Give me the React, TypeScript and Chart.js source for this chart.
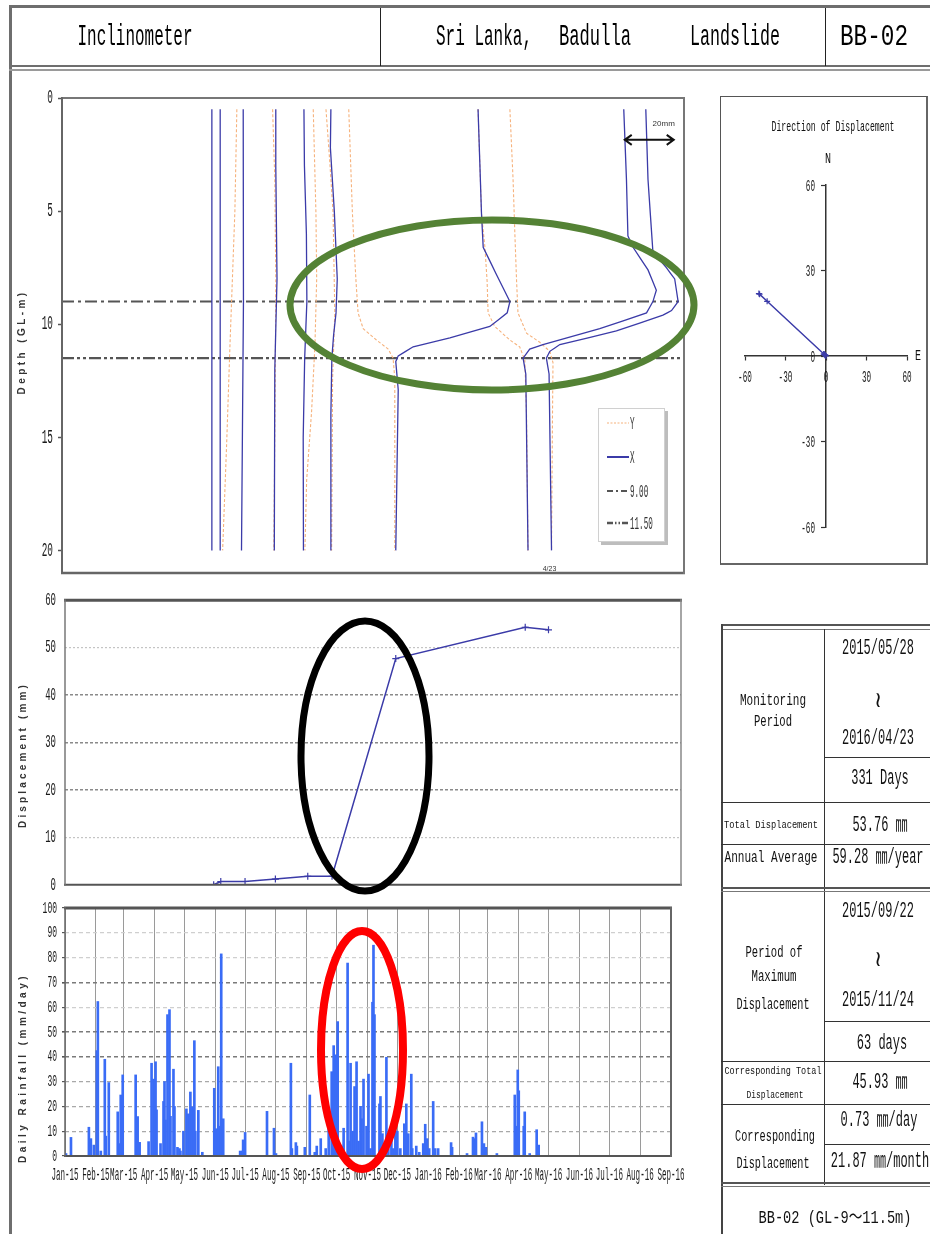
import React, { useEffect, useRef } from 'react';
import { Chart, registerables } from 'chart.js';

Chart.register(...registerables);

/* ======================= DATA ======================= */
// Inclinometer (depth profile) chart
const depthTicks = [0, 5, 10, 15, 20];
const depthMax = 21;
const readingMin = 0;
const readingMax = 254; // mm across the plot width (each survey drawn with its own offset)

// each point = [depth (m), reading (mm)]
const profileX1 = [[0.5, 61.2], [20, 61.2]];
const profileX2 = [[0.5, 64.6], [20, 64.6]];
const profileX3 = [[0.5, 74.0], [9, 74.1], [20, 73.3]];
const profileX4 = [[0.5, 87.3], [3, 87.3], [8, 87.8], [12, 86.9], [20, 86.7]];
const profileX5 = [[0.5, 98.8], [3, 99.0], [6, 99.8], [9, 100.0], [11.5, 99.1], [15, 98.5], [20, 98.6]];
const profileX6 = [[0.5, 109.8], [2.2, 109.6], [5, 111.2], [8, 112.4], [9.5, 111.9], [10.5, 110.9], [11.5, 110.2], [14, 109.8], [20, 109.8]];
const profileX7 = [[0.5, 169.9], [5.1, 171.3], [6.6, 172.0], [7.8, 177.4], [9.0, 182.9], [9.5, 181.8], [10.1, 174.7], [10.6, 158.4], [11.0, 143.4], [11.4, 137.3], [11.65, 136.3], [12.9, 137.3], [20, 136.3]];
const profileX8 = [[0.5, 229.4], [3.6, 230.5], [6.1, 231.1], [6.6, 233.2], [7.6, 239.3], [8.5, 242.7], [9.0, 241.3], [9.5, 238.7], [10.2, 219.6], [10.9, 196.4], [11.1, 191.0], [11.5, 188.3], [12.2, 189.4], [20, 190.3]];
const profileX9 = [[0.5, 238.4], [3.6, 239.3], [6.8, 241.3], [7.5, 246.8], [8.0, 250.2], [9.0, 251.6], [9.4, 248.9], [9.6, 245.4], [10.3, 226.4], [10.9, 203.3], [11.2, 199.2], [11.5, 197.8], [12.2, 198.9], [20, 199.9]];

const profileY1 = [[0.5, 71.4], [5, 70.6], [10.9, 68.6], [15.4, 67.2], [20, 65.6]];
const profileY2 = [[0.5, 86.0], [3.6, 86.9], [8, 87.3], [12.4, 87.1], [20, 86.5]];
const profileY3 = [[0.5, 102.6], [5.1, 103.7], [8, 104.0], [10.9, 103.3], [13.9, 101.9], [16.9, 99.9], [20, 99.2]];
const profileY4 = [[0.5, 107.8], [2.9, 109.4], [5.1, 110.7], [9.5, 111.4], [12.4, 110.5], [20, 110.1]];
const profileY5 = [[0.5, 117.1], [5.1, 118.6], [8, 120.0], [9.5, 120.9], [10.2, 123.0], [10.7, 128.4], [11.1, 133.2], [11.5, 135.2], [12.4, 135.9], [20, 135.9]];
const profileY6 = [[0.5, 169.9], [5.1, 171.3], [6.6, 172.7], [8.1, 173.6], [9.5, 174.0], [10.1, 176.7], [10.7, 182.9], [11.0, 186.9], [11.6, 189.0], [14, 189.7], [20, 190.3]];
const profileY7 = [[0.5, 182.9], [3.6, 184.2], [5.9, 184.9], [8, 185.6], [9.5, 186.2], [10.4, 189.7], [10.8, 195.1], [11.2, 199.2], [11.7, 200.5], [14, 200.3], [20, 199.9]];

const profilesX = [profileX1, profileX2, profileX3, profileX4, profileX5, profileX6, profileX7, profileX8, profileX9];
const profilesY = [profileY1, profileY2, profileY3, profileY4, profileY5, profileY6, profileY7];

const slipDepths = [9.0, 11.5];
const slipLabels = ['9.00', '11.50'];
const lastSurveyLabel = '4/23';
const scaleBarMm = 20;

// Displacement time series
const dispDates = ['2015-05-28', '2015-06-04', '2015-06-28', '2015-07-28', '2015-08-29', '2015-09-22', '2015-11-24', '2016-03-31', '2016-04-23'];
const dispValues = [0, 0.7, 0.7, 1.2, 1.8, 1.8, 47.7, 54.3, 53.76];

// Direction of displacement (E, N in mm)
const dirEast = [0, -0.6, -0.6, -1.1, -1.6, -1.6, -43.6, -49.7, -49.2];
const dirNorth = [0, 0.3, 0.3, 0.5, 0.7, 0.7, 19.2, 21.9, 21.7];

// Daily rainfall
const rainDates = [
  '2015-01-02', '2015-01-07', '2015-01-25', '2015-01-27', '2015-01-30',
  '2015-02-02', '2015-02-03', '2015-02-06', '2015-02-10', '2015-02-11', '2015-02-14', '2015-02-23', '2015-02-25', '2015-02-26', '2015-02-28',
  '2015-03-13', '2015-03-15', '2015-03-17', '2015-03-26', '2015-03-29', '2015-03-31',
  '2015-04-02', '2015-04-03', '2015-04-07', '2015-04-10', '2015-04-11', '2015-04-12', '2015-04-14', '2015-04-16', '2015-04-17', '2015-04-20', '2015-04-21', '2015-04-24', '2015-04-26', '2015-04-27', '2015-04-30',
  '2015-05-03', '2015-05-05', '2015-05-07', '2015-05-09', '2015-05-11', '2015-05-12', '2015-05-15', '2015-05-19', '2015-05-31',
  '2015-06-02', '2015-06-04', '2015-06-05', '2015-06-07', '2015-06-09', '2015-06-26', '2015-06-28', '2015-06-29',
  '2015-07-01', '2015-07-23', '2015-07-30',
  '2015-08-01', '2015-08-16', '2015-08-17', '2015-08-21', '2015-08-22', '2015-08-30',
  '2015-09-04', '2015-09-09', '2015-09-11', '2015-09-15', '2015-09-20', '2015-09-23', '2015-09-26', '2015-09-28', '2015-09-30',
  '2015-10-02', '2015-10-06', '2015-10-08', '2015-10-12', '2015-10-13', '2015-10-15', '2015-10-17', '2015-10-19', '2015-10-21', '2015-10-23', '2015-10-25', '2015-10-26', '2015-10-28', '2015-10-31',
  '2015-11-02', '2015-11-04', '2015-11-06', '2015-11-07', '2015-11-08', '2015-11-13', '2015-11-14', '2015-11-16', '2015-11-20', '2015-11-22', '2015-11-25', '2015-11-27', '2015-11-29',
  '2015-12-01', '2015-12-04', '2015-12-08', '2015-12-10', '2015-12-12', '2015-12-15', '2015-12-16', '2015-12-20', '2015-12-23', '2015-12-27', '2015-12-29', '2015-12-31',
  '2016-01-02', '2016-01-06', '2016-01-08', '2016-01-11', '2016-01-24', '2016-01-25',
  '2016-02-09', '2016-02-15', '2016-02-17', '2016-02-18', '2016-02-24', '2016-02-26', '2016-02-28',
  '2016-03-10', '2016-03-28', '2016-03-30', '2016-03-31',
  '2016-04-01', '2016-04-06', '2016-04-07', '2016-04-12', '2016-04-19', '2016-04-21',
];
const rainValues = [
  1, 7.5, 11.6, 7, 4.4,
  42.5, 62.3, 2, 39, 8, 29.6, 17.8, 5, 24.6, 32.7,
  32.7, 15.9, 5.5, 5.8, 37.4, 31,
  38, 18.6, 5, 22, 30, 14.5, 57, 59, 16, 35, 20, 3.5, 3, 2, 10,
  19, 17, 25.8, 19.8, 46.5, 10, 18.4, 1.5, 27.3,
  11, 36, 12, 81.5, 15, 2, 2, 6.5,
  9.5, 18, 11.2,
  1, 37.4, 3, 5.4, 4, 3.5,
  24.6, 1.5, 4, 7, 3, 18, 34, 44.5, 40.8,
  54.2, 4, 11.2, 77.8, 6, 37.4, 10, 28, 38, 6, 20, 15, 31, 12,
  33, 3, 62, 85, 57, 21, 24, 9, 39.8, 3, 7, 3, 17,
  10, 3, 13, 21, 9, 33, 3, 4, 1.5, 5, 12.8, 7,
  3, 22, 3, 3, 5.4, 3.5,
  1, 7.6, 7, 9.3, 13.8, 5, 3.5,
  1, 24.6, 12, 34.7,
  26.3, 12, 17.8, 1, 10.6, 4.4,
];

const axisStart = '2015-01-01';
const axisEnd = '2016-09-01';
const monthTickDates = [
  '2015-01-01', '2015-02-01', '2015-03-01', '2015-04-01', '2015-05-01', '2015-06-01', '2015-07-01',
  '2015-08-01', '2015-09-01', '2015-10-01', '2015-11-01', '2015-12-01', '2016-01-01', '2016-02-01',
  '2016-03-01', '2016-04-01', '2016-05-01', '2016-06-01', '2016-07-01', '2016-08-01', '2016-09-01',
];
const monthTickLabels = [
  'Jan-15', 'Feb-15', 'Mar-15', 'Apr-15', 'May-15', 'Jun-15', 'Jul-15', 'Aug-15', 'Sep-15', 'Oct-15', 'Nov-15',
  'Dec-15', 'Jan-16', 'Feb-16', 'Mar-16', 'Apr-16', 'May-16', 'Jun-16', 'Jul-16', 'Aug-16', 'Sep-16',
];

/* ======================= STYLE ======================= */
const NARROW = "'Liberation Sans Narrow','Arial Narrow','DejaVu Sans Condensed','Liberation Sans',sans-serif";
const MONO = "'Liberation Mono','DejaVu Sans Mono','Noto Sans CJK JP',monospace";
const SANS = "'Liberation Sans','DejaVu Sans',sans-serif";
const X_COLOR = '#3b3ba8';
const Y_COLOR = '#f6b27c';
const RAIN_COLOR = '#3a6cf6';
const REF_COLOR = '#555';
const DASH_900 = [12, 4, 3, 4];
const DASH_1150 = [12, 3, 3, 3, 3, 3];
const HIDDEN = 'rgba(0,0,0,0)';
const VALUE_SX = 0.545; // condensed value text in the summary table

Chart.defaults.font.family = NARROW;
Chart.defaults.color = '#222';

/* ======================= HELPERS ======================= */
const toUTC = (iso: string) => {
  const [y, m, d] = iso.split('-').map(Number);
  return Date.UTC(y, m - 1, d);
};
const dayOf = (iso: string) => (toUTC(iso) - toUTC(axisStart)) / 86400000;
const DAY_END = dayOf(axisEnd);

let measurer: CanvasRenderingContext2D | null = null;
function textWidth(text: string, font: string) {
  if (!measurer) measurer = document.createElement('canvas').getContext('2d');
  measurer!.font = font;
  return measurer!.measureText(text).width;
}

function Txt({ x, y, text, size, w, sx: sxFixed, family = MONO, weight = 'normal', color = '#111' }: any) {
  const font = `${weight} ${size}px ${family}`;
  let sx = 1;
  if (sxFixed) sx = sxFixed;
  else if (w) sx = w / textWidth(text, font);
  return (
    <div
      style={{
        position: 'absolute', left: x, top: y,
        transform: `translate(-50%, -50%) scaleX(${sx})`,
        font, lineHeight: 1, whiteSpace: 'pre', color, filter: 'grayscale(1)',
      }}
    >
      {text}
    </div>
  );
}

function VTxt({ x, y, text, size, len, family = SANS, weight = 'bold', color = '#333' }: any) {
  const font = `${weight} ${size}px ${family}`;
  const natural = textWidth(text, font);
  const ls = (len - natural) / text.length;
  return (
    <div
      style={{
        position: 'absolute', left: x, top: y,
        transform: 'translate(-50%, -50%) rotate(-90deg)',
        font, letterSpacing: ls, lineHeight: 1, whiteSpace: 'pre', color,
      }}
    >
      {text}
    </div>
  );
}

const Ln = ({ x, y, w, h, c = '#333' }: any) => (
  <div style={{ position: 'absolute', left: x, top: y, width: w, height: h, background: c }} />
);

function ChartCanvas({ left, top, width, height, make }: any) {
  const ref = useRef<HTMLCanvasElement | null>(null);
  useEffect(() => {
    const chart = new Chart(ref.current as HTMLCanvasElement, make());
    return () => chart.destroy();
  }, []);
  return (
    <div style={{ position: 'absolute', left, top, width, height }}>
      <canvas ref={ref} width={width} height={height} style={{ width, height, display: 'block' }} />
    </div>
  );
}

/* ======================= PLUGINS ======================= */
const framePlugin = {
  id: 'frame',
  afterDraw(chart: any, _args: any, opts: any) {
    const { ctx, chartArea: a } = chart;
    const s = opts.sides || {};
    ctx.save();
    ctx.setLineDash([]);
    const seg = (x1: number, y1: number, x2: number, y2: number, st: any) => {
      if (!st) return;
      ctx.strokeStyle = st[1];
      ctx.lineWidth = st[0];
      ctx.beginPath();
      ctx.moveTo(x1, y1);
      ctx.lineTo(x2, y2);
      ctx.stroke();
    };
    seg(a.left - 1, a.top, a.right + 1, a.top, s.top);
    seg(a.left - 1, a.bottom, a.right + 1, a.bottom, s.bottom);
    seg(a.left, a.top - 1, a.left, a.bottom + 1, s.left);
    seg(a.right, a.top - 1, a.right, a.bottom + 1, s.right);
    ctx.restore();
  },
};

// Draws the scale's own tick labels in a tall, condensed face (like the original Gothic font).
const narrowTicks = {
  id: 'narrowTicks',
  afterDraw(chart: any, _args: any, opts: any) {
    const { ctx, chartArea: a } = chart;
    (opts.items || []).forEach((it: any) => {
      const sc = chart.scales[it.axis];
      if (!sc) return;
      const horizontal = sc.isHorizontal();
      let line: number;
      if (it.cross) line = chart.scales[it.cross.axis].getPixelForValue(it.cross.value);
      else line = horizontal ? a.bottom : a.left;
      ctx.save();
      ctx.font = `${it.size}px ${MONO}`;
      ctx.fillStyle = it.color || '#1a1a1a';
      ctx.textBaseline = 'middle';
      ctx.textAlign = horizontal ? 'center' : 'right';
      sc.ticks.forEach((t: any) => {
        const label = t.label;
        if (label === undefined || label === null || label === '') return;
        const p = sc.getPixelForValue(t.value);
        const x = horizontal ? p : line - it.offset;
        const y = horizontal ? line + it.offset : p + (it.dy || 0);
        ctx.save();
        ctx.translate(x, y);
        ctx.scale(it.sx, 1);
        ctx.fillText(String(label), 0, 0);
        ctx.restore();
      });
      ctx.restore();
    });
  },
};

const inclinoDecor = {
  id: 'inclinoDecor',
  afterDraw(chart: any) {
    const { ctx, chartArea: a, scales } = chart;
    const x = scales.x;
    const y = scales.y;
    ctx.save();
    // 20 mm scale bar
    const x1 = x.getPixelForValue(229.8);
    const x2 = x.getPixelForValue(229.8 + scaleBarMm);
    const yy = y.getPixelForValue(1.85);
    ctx.strokeStyle = '#111';
    ctx.lineWidth = 2;
    ctx.beginPath();
    ctx.moveTo(x1, yy); ctx.lineTo(x2, yy);
    ctx.moveTo(x1 + 7, yy - 5); ctx.lineTo(x1, yy); ctx.lineTo(x1 + 7, yy + 5);
    ctx.moveTo(x2 - 7, yy - 5); ctx.lineTo(x2, yy); ctx.lineTo(x2 - 7, yy + 5);
    ctx.stroke();
    ctx.fillStyle = '#333';
    ctx.font = `8px ${SANS}`;
    ctx.textAlign = 'center';
    ctx.textBaseline = 'middle';
    ctx.fillText(`${scaleBarMm}mm`, x2 - 10, y.getPixelForValue(1.15));

    // last survey label
    ctx.font = `7px ${SANS}`;
    ctx.fillText(lastSurveyLabel, x.getPixelForValue(profileX9[profileX9.length - 1][1]) - 2, a.bottom - 4);

    // legend box
    const lx = a.right - 86, ly = a.top + 310, lw = 67, lh = 134;
    ctx.fillStyle = '#bdbdbd';
    ctx.fillRect(lx + 3, ly + 3, lw, lh);
    ctx.fillStyle = '#fff';
    ctx.fillRect(lx, ly, lw, lh);
    ctx.strokeStyle = '#d0d0d0';
    ctx.lineWidth = 1;
    ctx.strokeRect(lx + 0.5, ly + 0.5, lw - 1, lh - 1);
    const entries = [
      { label: 'Y', color: Y_COLOR, width: 1.2, dash: [2, 1.5] },
      { label: 'X', color: X_COLOR, width: 2, dash: [] },
      { label: slipLabels[0], color: REF_COLOR, width: 2, dash: [6, 3, 2, 3] },
      { label: slipLabels[1], color: REF_COLOR, width: 2.5, dash: [6, 2, 1.5, 2, 1.5, 2] },
    ];
    const rows = [15, 49, 83, 115];
    entries.forEach((e, i) => {
      const ry = ly + rows[i];
      ctx.strokeStyle = e.color;
      ctx.lineWidth = e.width;
      ctx.setLineDash(e.dash);
      ctx.beginPath();
      ctx.moveTo(lx + 9, ry);
      ctx.lineTo(lx + 31, ry);
      ctx.stroke();
      ctx.setLineDash([]);
      ctx.fillStyle = '#333';
      ctx.font = `19px ${MONO}`;
      ctx.textAlign = 'left';
      ctx.save();
      ctx.translate(lx + 32, ry + 1);
      ctx.scale(0.4, 1);
      ctx.fillText(e.label, 0, 0);
      ctx.restore();
    });
    ctx.restore();
  },
};

/* ======================= CHART CONFIGS ======================= */
const hiddenTicks = (extra: any = {}) => ({ color: HIDDEN, font: { family: NARROW, size: 12 }, ...extra });

function makeInclinometer(): any {
  const toPts = (p: number[][]) => p.map(([d, v]) => ({ x: v, y: d }));
  const datasets: any[] = [
    ...profilesX.map((p) => ({
      label: 'X', data: toPts(p), borderColor: X_COLOR, borderWidth: 1.3,
      pointRadius: 0, tension: 0.001, order: 0,
    })),
    ...profilesY.map((p) => ({
      label: 'Y', data: toPts(p), borderColor: Y_COLOR, borderWidth: 1.1, borderDash: [3, 2],
      pointRadius: 0, order: 1,
    })),
    {
      label: slipLabels[0], data: [{ x: readingMin, y: slipDepths[0] }, { x: readingMax, y: slipDepths[0] }],
      borderColor: REF_COLOR, borderWidth: 2, borderDash: DASH_900, pointRadius: 0, order: 2,
    },
    {
      label: slipLabels[1], data: [{ x: readingMin, y: slipDepths[1] }, { x: readingMax, y: slipDepths[1] }],
      borderColor: REF_COLOR, borderWidth: 2.2, borderDash: DASH_1150, pointRadius: 0, order: 2,
    },
  ];
  return {
    type: 'line',
    data: { datasets },
    options: {
      animation: false, responsive: false, maintainAspectRatio: false,
      layout: { padding: { left: 0, top: 18, right: 16, bottom: 17 } },
      plugins: {
        legend: { display: false }, tooltip: { enabled: false },
        frame: { sides: { top: [2, '#777'], bottom: [2.5, '#666'], left: [2, '#666'], right: [2, '#777'] } },
        narrowTicks: { items: [{ axis: 'y', offset: 9, size: 20, sx: 0.47 }] },
      },
      scales: {
        x: { type: 'linear', display: false, min: readingMin, max: readingMax },
        y: {
          type: 'linear', reverse: true, min: 0, max: depthMax,
          afterBuildTicks: (s: any) => { s.ticks = depthTicks.map((v) => ({ value: v })); },
          afterFit: (s: any) => { s.width = 62; },
          grid: { drawOnChartArea: false, drawTicks: true, tickLength: 4, tickColor: '#555', tickWidth: 1.5 },
          border: { display: false },
          ticks: hiddenTicks({ padding: 5 }),
        },
      },
    },
    plugins: [framePlugin, inclinoDecor, narrowTicks],
  };
}

function makeDisplacement(): any {
  return {
    type: 'line',
    data: {
      datasets: [{
        data: dispDates.map((d, i) => ({ x: dayOf(d), y: dispValues[i] })),
        borderColor: X_COLOR, borderWidth: 1.5, pointStyle: 'cross', pointRadius: 3.5,
        pointBorderColor: X_COLOR, pointBorderWidth: 1.2,
      }],
    },
    options: {
      animation: false, responsive: false, maintainAspectRatio: false,
      layout: { padding: { left: 0, top: 11, right: 19, bottom: 15 } },
      plugins: {
        legend: { display: false }, tooltip: { enabled: false },
        frame: { sides: { top: [3, '#555'], bottom: [2, '#555'], left: [1.5, '#777'], right: [1.5, '#888'] } },
        narrowTicks: { items: [{ axis: 'y', offset: 9, size: 18, sx: 0.5 }] },
      },
      scales: {
        x: { type: 'linear', display: false, min: 0, max: DAY_END },
        y: {
          min: 0, max: 60,
          afterFit: (s: any) => { s.width = 65; },
          ticks: hiddenTicks({ stepSize: 10, padding: 8 }),
          grid: {
            drawTicks: false,
            color: (c: any) => {
              const v = c.tick && c.tick.value;
              if (v === 0 || v === 60) return HIDDEN;
              return v === 10 || v === 50 ? '#c4c4c4' : '#8a8a8a';
            },
            lineWidth: (c: any) => (c.tick && (c.tick.value === 10 || c.tick.value === 50) ? 1.2 : 1.6),
          },
          border: { display: false, dash: (c: any) => (c.tick && (c.tick.value === 10 || c.tick.value === 50) ? [2, 2] : [3, 2]) },
        },
      },
    },
    plugins: [framePlugin, narrowTicks],
  };
}

function makeRainfall(): any {
  return {
    type: 'bar',
    data: {
      datasets: [{
        data: rainDates.map((d, i) => ({ x: dayOf(d), y: rainValues[i] })),
        backgroundColor: RAIN_COLOR, borderWidth: 0, barThickness: 2,
      }],
    },
    options: {
      animation: false, responsive: false, maintainAspectRatio: false,
      layout: { padding: { left: 0, top: 13, right: 19, bottom: 0 } },
      plugins: {
        legend: { display: false }, tooltip: { enabled: false },
        frame: { sides: { top: [3, '#555'], bottom: [2, '#555'], left: [1.5, '#666'], right: [2, '#666'] } },
        narrowTicks: {
          items: [
            { axis: 'y', offset: 8, size: 17, sx: 0.47 },
            { axis: 'x', offset: 19, size: 18, sx: 0.42 },
          ],
        },
      },
      scales: {
        x: {
          type: 'linear', min: 0, max: DAY_END, offset: false,
          afterBuildTicks: (s: any) => { s.ticks = monthTickDates.map((d) => ({ value: dayOf(d) })); },
          afterFit: (s: any) => { s.height = 39; },
          grid: { color: '#9a9a9a', lineWidth: 1, drawTicks: false, offset: false },
          border: { display: false },
          ticks: hiddenTicks({
            autoSkip: false, maxRotation: 0, minRotation: 0, padding: 10,
            callback: (_v: any, i: number) => monthTickLabels[i],
          }),
        },
        y: {
          min: 0, max: 100,
          afterFit: (s: any) => { s.width = 65; },
          ticks: hiddenTicks({ stepSize: 10, padding: 5 }),
          grid: {
            drawTicks: true, tickLength: 3, tickColor: '#555',
            color: (c: any) => {
              const v = c.tick && c.tick.value;
              if (v === 0 || v === 100) return HIDDEN;
              if (v === 40 || v === 50 || v === 70) return '#7a7a7a';
              if (v === 10 || v === 20 || v === 30) return '#a8a8a8';
              return '#cfcfcf';
            },
            lineWidth: (c: any) => {
              const v = c.tick && c.tick.value;
              return v === 40 || v === 50 || v === 70 ? 1.6 : 1.2;
            },
          },
          border: { display: false, dash: [4, 3] },
        },
      },
    },
    plugins: [framePlugin, narrowTicks],
  };
}

function makeDirection(): any {
  const axisCommon = {
    type: 'linear', min: -60, max: 60,
    grid: { drawOnChartArea: false, drawTicks: true, tickLength: 4, tickColor: '#333', tickWidth: 1.2 },
    border: { display: true, color: '#333', width: 1.5 },
  };
  return {
    type: 'scatter',
    data: {
      datasets: [{
        data: dirEast.map((e, i) => ({ x: e, y: dirNorth[i] })),
        showLine: true, borderColor: X_COLOR, borderWidth: 1.5,
        pointStyle: 'cross', pointRadius: 3, pointBorderColor: X_COLOR, pointBorderWidth: 1.2,
      }],
    },
    options: {
      animation: false, responsive: false, maintainAspectRatio: false,
      layout: { padding: { left: 23, right: 19, top: 87, bottom: 35 } },
      plugins: {
        legend: { display: false }, tooltip: { enabled: false },
        narrowTicks: {
          items: [
            { axis: 'x', cross: { axis: 'y', value: 0 }, offset: 21, size: 17, sx: 0.45 },
            { axis: 'y', cross: { axis: 'x', value: 0 }, offset: 11, size: 17, sx: 0.45, dy: 1 },
          ],
        },
      },
      scales: {
        x: { ...axisCommon, position: { y: 0 }, ticks: hiddenTicks({ stepSize: 30, padding: 8 }) },
        y: { ...axisCommon, position: { x: 0 }, ticks: hiddenTicks({ stepSize: 30, padding: 7 }) },
      },
    },
    plugins: [narrowTicks],
  };
}

/* ======================= APP ======================= */
export default function App() {
  const LC = 773; // left column centre of the summary table
  const RC = 878; // right column centre
  return (
    <div style={{ position: 'absolute', left: 0, top: 0, width: 930, height: 1234, background: '#fff', overflow: 'hidden' }}>
      {/* page frame & header */}
      <Ln x={9} y={5} w={921} h={3} c="#6e6e6e" />
      <Ln x={9} y={5} w={3} h={1229} c="#6e6e6e" />
      <Ln x={9} y={65} w={921} h={2} c="#6e6e6e" />
      <Ln x={9} y={69} w={921} h={2} c="#9a9a9a" />
      <Ln x={380} y={8} w={1} h={58} c="#222" />
      <Ln x={825} y={8} w={1} h={58} c="#222" />
      <Txt x={135} y={37} text="Inclinometer" size={30} w={115} color="#000" />
      <Txt x={484} y={37} text="Sri Lanka," size={30} w={96} color="#000" />
      <Txt x={595} y={37} text="Badulla" size={30} w={72} color="#000" />
      <Txt x={735} y={37} text="Landslide" size={30} w={90} color="#000" />
      <Txt x={874} y={37} text="BB-02" size={30} w={68} color="#000" />

      {/* charts */}
      <ChartCanvas left={0} top={80} width={700} height={510} make={makeInclinometer} />
      <ChartCanvas left={0} top={585} width={700} height={315} make={makeDisplacement} />
      <ChartCanvas left={0} top={895} width={700} height={300} make={makeRainfall} />

      <VTxt x={22} y={342} text="Depth (GL-m)" size={10} len={105} />
      <VTxt x={23} y={755} text="Displacement (mm)" size={10} len={146} />
      <VTxt x={23} y={1068} text="Daily Rainfall (mm/day)" size={10} len={190} />

      {/* direction of displacement */}
      <div style={{ position: 'absolute', left: 720, top: 96, width: 205, height: 466, borderLeft: '1px solid #555', borderTop: '1px solid #555', borderRight: '2px solid #666', borderBottom: '2px solid #666' }} />
      <ChartCanvas left={722} top={98} width={204} height={464} make={makeDirection} />
      <Txt x={833} y={127} text="Direction of Displacement" size={15} w={123} />
      <Txt x={828} y={159} text="N" size={15} w={6} />
      <Txt x={918} y={356} text="E" size={15} w={6} />

      {/* summary table */}
      <Ln x={721} y={624} w={209} h={2} c="#555" />
      <Ln x={721} y={629} w={209} h={1} c="#777" />
      <Ln x={721} y={624} w={2} h={610} c="#444" />
      <Ln x={824} y={629} w={1} h={556} c="#333" />
      <Ln x={824} y={757} w={106} h={1} c="#333" />
      <Ln x={721} y={802} w={209} h={1} c="#333" />
      <Ln x={721} y={844} w={209} h={1} c="#333" />
      <Ln x={721} y={887} w={209} h={2} c="#555" />
      <Ln x={721} y={891} w={209} h={1} c="#777" />
      <Ln x={824} y={1021} w={106} h={1} c="#333" />
      <Ln x={721} y={1061} w={209} h={1} c="#333" />
      <Ln x={721} y={1104} w={209} h={1} c="#333" />
      <Ln x={824} y={1144} w={106} h={1} c="#333" />
      <Ln x={721} y={1182} w={209} h={2} c="#555" />
      <Ln x={721} y={1186} w={209} h={1} c="#777" />

      <Txt x={LC} y={701} text="Monitoring" size={16} w={66} />
      <Txt x={LC} y={722} text="Period" size={16} w={38} />
      <Txt x={RC} y={649} text="2015/05/28" size={22} sx={VALUE_SX} />
      <Txt x={RC} y={702} text="≀" size={22} />
      <Txt x={RC} y={739} text="2016/04/23" size={22} sx={VALUE_SX} />
      <Txt x={RC + 2} y={779} text="331 Days" size={22} sx={VALUE_SX} />
      <Txt x={771} y={825} text="Total Displacement" size={11} w={94} />
      <Txt x={RC + 2} y={826} text="53.76 ㎜" size={22} sx={VALUE_SX} />
      <Txt x={771} y={858} text="Annual Average" size={16} w={93} />
      <Txt x={RC} y={858} text="59.28 ㎜/year" size={22} sx={VALUE_SX} />

      <Txt x={RC} y={912} text="2015/09/22" size={22} sx={VALUE_SX} />
      <Txt x={RC} y={961} text="≀" size={22} />
      <Txt x={RC} y={1001} text="2015/11/24" size={22} sx={VALUE_SX} />
      <Txt x={RC + 4} y={1044} text="63 days" size={22} sx={VALUE_SX} />
      <Txt x={774} y={953} text="Period of" size={16} w={57} />
      <Txt x={774} y={977} text="Maximum" size={16} w={45} />
      <Txt x={773} y={1005} text="Displacement" size={16} w={73} />
      <Txt x={773} y={1071} text="Corresponding Total" size={11} w={97} />
      <Txt x={775} y={1095} text="Displacement" size={11} w={57} />
      <Txt x={RC + 2} y={1083} text="45.93 ㎜" size={22} sx={VALUE_SX} />
      <Txt x={775} y={1137} text="Corresponding" size={16} w={80} />
      <Txt x={773} y={1164} text="Displacement" size={16} w={73} />
      <Txt x={RC + 1} y={1121} text="0.73 ㎜/day" size={22} sx={VALUE_SX} />
      <Txt x={RC + 2} y={1162} text="21.87 ㎜/month" size={22} sx={VALUE_SX} />
      <Txt x={835} y={1218} text="BB-02 (GL-9～11.5m)" size={18} w={153} />

      {/* highlight ellipses */}
      <svg style={{ position: 'absolute', left: 0, top: 0, pointerEvents: 'none' }} width={930} height={1234}>
        <ellipse cx={492} cy={305} rx={202} ry={85} fill="none" stroke="#548235" strokeWidth={7} />
        <ellipse cx={365} cy={756} rx={64} ry={135} fill="none" stroke="#000" strokeWidth={7} />
        <ellipse cx={362} cy={1050} rx={41} ry={119} fill="none" stroke="#ff0000" strokeWidth={8} />
      </svg>
    </div>
  );
}
